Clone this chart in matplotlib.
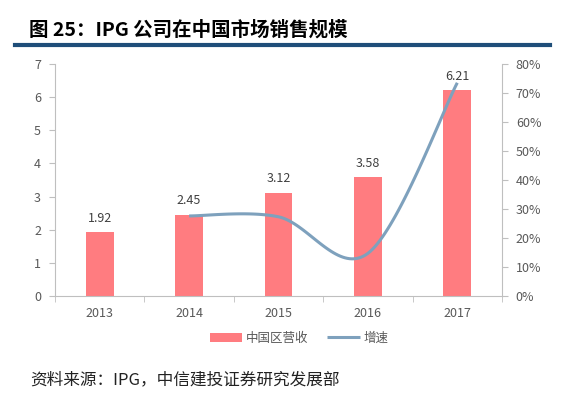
import numpy as np
import matplotlib
matplotlib.use("Agg")
import matplotlib.pyplot as plt
from matplotlib.ticker import FuncFormatter

plt.rcParams['font.family'] = ['Noto Sans CJK SC', 'DejaVu Sans']

years = ['2013', '2014', '2015', '2016', '2017']
revenue = [1.92, 2.45, 3.12, 3.58, 6.21]          # 中国区营收
growth_years = [1, 2, 3, 4]                        # index of 2014..2017
growth = [0.276, 0.273, 0.147, 0.735]              # 增速

bar_color = '#FF7C80'
line_color = '#7EA1BD'
tick_color = '#595959'
spine_color = '#BFBFBF'


def smooth(xs, ys, n=40):
    # Excel style smoothed line: bezier segments with catmull-rom control points
    xs = np.asarray(xs, float)
    ys = np.asarray(ys, float)
    px = np.concatenate([[xs[0]], xs, [xs[-1]]])
    py = np.concatenate([[ys[0]], ys, [ys[-1]]])
    out_x, out_y = [], []
    t = np.linspace(0, 1, n)
    for i in range(1, len(px) - 2):
        p0 = np.array([px[i], py[i]])
        p3 = np.array([px[i + 1], py[i + 1]])
        c1 = p0 + (np.array([px[i + 1], py[i + 1]]) - np.array([px[i - 1], py[i - 1]])) / 6
        c2 = p3 - (np.array([px[i + 2], py[i + 2]]) - np.array([px[i], py[i]])) / 6
        b = ((1 - t) ** 3)[:, None] * p0 + (3 * (1 - t) ** 2 * t)[:, None] * c1 \
            + (3 * (1 - t) * t ** 2)[:, None] * c2 + (t ** 3)[:, None] * p3
        out_x.extend(b[:, 0])
        out_y.extend(b[:, 1])
    return np.array(out_x), np.array(out_y)


fig = plt.figure(figsize=(5.75, 3.97), dpi=100)
ax = fig.add_axes([0.0957, 0.2544, 0.7773, 0.5846])
x = np.arange(len(years))
bars = ax.bar(x, revenue, width=0.31, color=bar_color, zorder=2, label='中国区营收')
for xi, v in zip(x, revenue):
    ax.text(xi, v + 0.22, f'{v:.2f}', ha='center', va='bottom', fontsize=9, color='#404040')

ax.set_xlim(-0.5, len(years) - 0.5)
ax.set_ylim(0, 7)
ax.set_yticks(range(0, 8))
ax.set_xticks(x)
ax.set_xticklabels(years)
ax.set_xticks(np.arange(-0.5, len(years)), minor=True)
ax.tick_params(axis='x', which='major', length=0, pad=8, labelsize=9, colors=tick_color)
ax.tick_params(axis='x', which='minor', length=4, color=spine_color)
ax.tick_params(axis='y', length=4, color=spine_color, labelsize=9, labelcolor=tick_color, pad=6)
for s in ['top', 'right']:
    ax.spines[s].set_visible(False)
for s in ['left', 'bottom']:
    ax.spines[s].set_color(spine_color)

ax2 = ax.twinx()
sx, sy = smooth(growth_years, growth)
line, = ax2.plot(sx, sy, color=line_color, lw=2.2, zorder=3, label='增速',
                 solid_capstyle='butt')
ax2.set_ylim(0, 0.8)
ax2.set_yticks(np.arange(0, 0.81, 0.1))
ax2.yaxis.set_major_formatter(FuncFormatter(lambda v, p: f'{v * 100:.0f}%'))
ax2.tick_params(axis='y', length=4, color=spine_color, labelsize=9, labelcolor=tick_color, pad=6)
for s in ['top', 'left', 'bottom']:
    ax2.spines[s].set_visible(False)
ax2.spines['right'].set_color(spine_color)

fig.legend([bars, line], ['中国区营收', '增速'], loc='center', bbox_to_anchor=(0.52, 0.148),
           ncol=2, frameon=False, fontsize=9, handlelength=2.6, columnspacing=1.5,
           handletextpad=0.3, labelcolor=tick_color)

fig.text(0.050, 0.925, '图 25：IPG 公司在中国市场销售规模', fontsize=14, fontweight='heavy',
         color='black', va='center')
fig.add_artist(plt.Line2D([0.026, 0.957], [0.886, 0.886], color='#1F4E79', lw=3,
                          transform=fig.transFigure))
fig.text(0.052, 0.043, '资料来源：IPG，中信建投证券研究发展部', fontsize=12, style='italic',
         color='#222222', va='center')

fig.savefig('out.png', dpi=100)
